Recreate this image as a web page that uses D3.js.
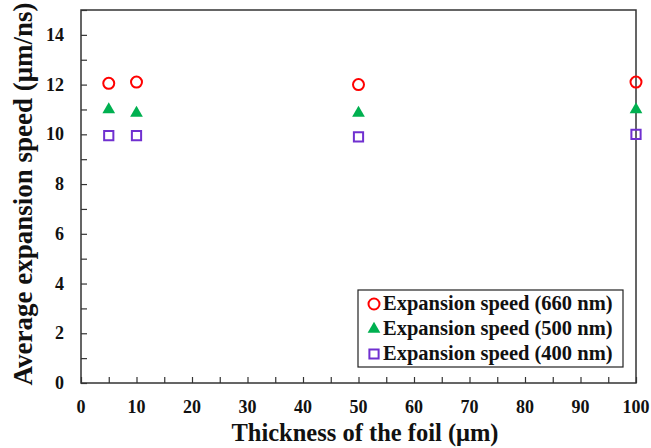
<!DOCTYPE html>
<meta charset="utf-8">
<style>
  body { margin: 0; background: #fff; }
  svg text { font-family: 'Liberation Serif', 'DejaVu Serif', serif; font-weight: 700; fill: #111; }
</style>
<body>
<script src="https://d3js.org/d3.v7.min.js"></script>
<script>
// data
var thickness = [5, 10, 50, 100];
var speed660 = [12.05, 12.1, 12.0, 12.1];
var speed500 = [11.0, 10.85, 10.85, 11.0];
var speed400 = [9.95, 9.95, 9.9, 10.0];
var seriesNames = ["Expansion speed (660 nm)", "Expansion speed (500 nm)", "Expansion speed (400 nm)"];
var xTicks = d3.range(0, 101, 10);
var yTicks = d3.range(0, 15, 2);

var width = 651, height = 448;
var margin = {top: 10, right: 15, bottom: 65, left: 81};
var serif = "'Liberation Serif', 'DejaVu Serif', serif";

var svg = d3.select("body").append("svg")
    .attr("width", width)
    .attr("height", height)
    .attr("font-family", serif)
    .attr("font-weight", "bold");

var x = d3.scaleLinear().domain([0, 100]).range([margin.left, width - margin.right]);
var y = d3.scaleLinear().domain([0, 15]).range([height - margin.bottom, margin.top]);

// frame
svg.append("rect")
    .attr("x", x(0)).attr("y", y(15))
    .attr("width", x(100) - x(0)).attr("height", y(0) - y(15))
    .attr("fill", "none").attr("stroke", "#333").attr("stroke-width", 1.5);

// inward ticks
var xAxis = svg.append("g").attr("transform", "translate(0," + y(0) + ")")
    .call(d3.axisBottom(x).tickValues(d3.range(0, 101, 5)).tickSizeInner(-6).tickSizeOuter(0).tickFormat(""));
var yAxis = svg.append("g").attr("transform", "translate(" + x(0) + ",0)")
    .call(d3.axisLeft(y).tickValues(d3.range(0, 16, 1)).tickSizeInner(-6).tickSizeOuter(0).tickFormat(""));
[xAxis, yAxis].forEach(function(g) {
  g.select(".domain").remove();
  g.selectAll("line").attr("stroke", "#333").attr("stroke-width", 1.2);
});

// tick labels
svg.append("g").selectAll("text").data(xTicks).enter().append("text")
    .attr("x", function(d) { return x(d); })
    .attr("y", y(0) + 30)
    .attr("text-anchor", "middle")
    .style("font-size", "18px")
    .text(function(d) { return d; });

svg.append("g").selectAll("text").data(yTicks).enter().append("text")
    .attr("x", x(0) - 17)
    .attr("y", function(d) { return y(d) + 6; })
    .attr("text-anchor", "end")
    .style("font-size", "18px")
    .text(function(d) { return d; });

// axis titles
svg.append("text")
    .attr("x", 365)
    .attr("y", 441)
    .attr("text-anchor", "middle")
    .style("font-size", "24.5px")
    .text("Thickness of the foil (\u03bcm)");

svg.append("text")
    .attr("transform", "translate(32,194) rotate(-90)")
    .attr("text-anchor", "middle")
    .style("font-size", "27px")
    .text("Average expansion speed (\u03bcm/ns)");

// markers
var circ = d3.symbol().type(d3.symbolCircle).size(95);
var tri = d3.symbol().type(d3.symbolTriangle).size(70);
var sq = d3.symbol().type(d3.symbolSquare).size(85);

function drawSeries(vals, sym, fill, stroke) {
  svg.append("g").selectAll("path").data(vals).enter().append("path")
      .attr("transform", function(d, i) { return "translate(" + x(thickness[i]) + "," + y(d) + ")"; })
      .attr("d", sym)
      .attr("fill", fill)
      .attr("stroke", stroke)
      .attr("stroke-width", 2);
}
drawSeries(speed660, circ, "none", "#ff0000");
drawSeries(speed500, tri, "#00b050", "none");
drawSeries(speed400, sq, "none", "#7030d0");

// legend
var lg = svg.append("g").attr("transform", "translate(358,290)");
lg.append("rect").attr("width", 265).attr("height", 77)
    .attr("fill", "#fff").attr("stroke", "#222").attr("stroke-width", 1.2);
var legSyms = [
  {s: circ, fill: "none", stroke: "#ff0000"},
  {s: tri, fill: "#00b050", stroke: "none"},
  {s: sq, fill: "none", stroke: "#7030d0"}
];
seriesNames.forEach(function(name, i) {
  var cy = 14 + i * 25;
  lg.append("path")
      .attr("transform", "translate(16," + cy + ")")
      .attr("d", legSyms[i].s)
      .attr("fill", legSyms[i].fill)
      .attr("stroke", legSyms[i].stroke)
      .attr("stroke-width", 2);
  lg.append("text")
      .attr("x", 25).attr("y", cy + 6)
      .style("font-size", "20.5px")
      .text(name);
});
</script>
</body>
